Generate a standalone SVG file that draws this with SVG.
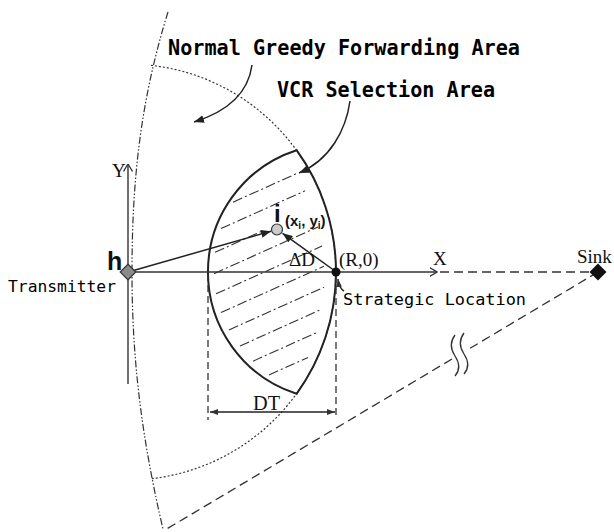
<svg xmlns="http://www.w3.org/2000/svg" width="614" height="532" viewBox="0 0 614 532">
<style>
.bg{fill:#fff}
.mono{font-family:"DejaVu Sans Mono","Liberation Mono",monospace;font-weight:bold;fill:#000}
.monor{font-family:"DejaVu Sans Mono","Liberation Mono",monospace;fill:#000}
.serif{font-family:"Liberation Serif","DejaVu Serif",serif;fill:#111}
.sansb{font-family:"Liberation Sans",Arial,sans-serif;font-weight:bold;fill:#111}
.axis{stroke:#333;stroke-width:1.4;fill:none}
.lens{stroke:#222;stroke-width:2;fill:none}
.dotted{stroke:#333;stroke-width:1.2;fill:none;stroke-dasharray:2,2}
.dashdot{stroke:#333;stroke-width:1.2;fill:none;stroke-dasharray:7,2,1.5,2,1.5,2}
.dashed{stroke:#333;stroke-width:1.3;fill:none;stroke-dasharray:9,5}
.vdash{stroke:#333;stroke-width:1.3;fill:none;stroke-dasharray:7,4}
.hatch{stroke:#333;stroke-width:1.1;fill:none;stroke-dasharray:10,3,2,3}
.arrow{stroke:#222;stroke-width:1.5;fill:none}
.wave{stroke:#333;stroke-width:1.3;fill:none}
</style>
<defs>
<marker id="arrF" viewBox="0 0 10 8" refX="10" refY="4" markerWidth="10" markerHeight="8" markerUnits="userSpaceOnUse" orient="auto-start-reverse">
<path d="M0,0 L10,4 L0,8 Z" fill="#222"/>
</marker>
<marker id="arrS" viewBox="0 0 8 6" refX="8" refY="3" markerWidth="8" markerHeight="6" markerUnits="userSpaceOnUse" orient="auto-start-reverse">
<path d="M0,0 L8,3 L0,6 Z" fill="#333"/>
</marker>
<marker id="arrO" viewBox="0 0 8 10" refX="7.5" refY="5" markerWidth="8" markerHeight="10" markerUnits="userSpaceOnUse" orient="auto">
<path d="M0,0.5 L7.5,5 L0,9.5" fill="none" stroke="#333" stroke-width="1.3"/>
</marker>
</defs>
<rect class="bg" x="0" y="0" width="614" height="532"/>

<g id="areas">
<path id="greedy-boundary" class="dashdot" d="M168,12 C140,102 132,182 132,272 C132,362 142,439 163,529"/>
<path id="greedy-arc" class="dotted" d="M151,65.3 A208,208 0 0 1 152,478.6"/>
<g id="hatching">
<line class="hatch" x1="233" y1="202.2" x2="296" y2="173.8"/>
<line class="hatch" x1="221" y1="228.6" x2="305" y2="190.8"/>
<line class="hatch" x1="215" y1="252.3" x2="262" y2="231.1"/>
<line class="hatch" x1="214" y1="273.7" x2="318" y2="226.9"/>
<line class="hatch" x1="216" y1="293.8" x2="322" y2="246.1"/>
<line class="hatch" x1="221" y1="312.6" x2="324" y2="266.2"/>
<line class="hatch" x1="229" y1="329.9" x2="324" y2="287.2"/>
<line class="hatch" x1="240" y1="346" x2="322" y2="309.1"/>
<line class="hatch" x1="253" y1="361.2" x2="317" y2="332.4"/>
<line class="hatch" x1="269" y1="374.9" x2="308" y2="357.4"/>
</g>
</g>

<g id="vcr-area">
<path class="lens" d="M296.6,150.2 A208,208 0 0 1 296.6,393.8 A128,128 0 0 1 296.6,150.2 Z"/>
</g>

<g id="connectors">
<line id="y-axis" class="axis" x1="128" y1="384" x2="128" y2="164" marker-end="url(#arrO)"/>
<line id="x-axis" class="axis" x1="128" y1="272" x2="437" y2="272" marker-end="url(#arrO)"/>
<line id="x-axis-ext" class="dashed" x1="440" y1="272" x2="590" y2="272"/>
<line id="sink-edge-a" class="dashed" x1="598" y1="272" x2="470" y2="348.3"/>
<line id="sink-edge-b" class="dashed" x1="452" y1="359" x2="165" y2="530"/>
<path id="break-1" class="wave" d="M455,335 C449,343 451,350 455,356 C459,362 461,369 455,376"/>
<path id="break-2" class="wave" d="M464,333 C458,341 460,348 464,354 C468,360 470,367 464,374"/>
<line id="dt-left" class="vdash" x1="208" y1="274" x2="208" y2="420"/>
<line id="dt-right" class="vdash" x1="336" y1="276" x2="336" y2="418"/>
<line id="dt-arrow" class="arrow" x1="210" y1="412" x2="335" y2="412" stroke-width="1.3" marker-start="url(#arrS)" marker-end="url(#arrS)"/>
<line id="h-to-i" class="arrow" x1="130" y1="271.5" x2="271" y2="231.2" marker-end="url(#arrF)"/>
<line id="s-to-i" class="arrow" x1="335" y1="271" x2="282.5" y2="233.3" marker-end="url(#arrF)"/>
<path id="greedy-label-arrow" class="arrow" d="M252,65 C248,95 226,112 194,122" marker-end="url(#arrF)"/>
<path id="vcr-label-arrow" class="arrow" d="M350,101 C346,130 330,160 299,173" marker-end="url(#arrF)"/>
<path id="strategic-label-arrow" class="arrow" stroke-width="1.2" d="M344,291 Q339,288 338,279" marker-end="url(#arrS)"/>
</g>

<g id="transmitter">
<rect x="122.5" y="266.5" width="11" height="11" transform="rotate(45 128 272)" fill="#8a8a8a" stroke="#333" stroke-width="1.2"/>
<text class="sansb" x="107" y="270" font-size="25">h</text>
<text class="monor" x="8" y="292" font-size="16.5" textLength="108" lengthAdjust="spacingAndGlyphs">Transmitter</text>
</g>

<g id="sink">
<rect x="592" y="266" width="12" height="12" transform="rotate(45 598 272)" fill="#111"/>
<text class="serif" x="577" y="263" font-size="19">Sink</text>
</g>

<g id="node-i">
<circle cx="277" cy="229.5" r="5.5" fill="#ccc" stroke="#333" stroke-width="1.2"/>
<text class="sansb" x="274" y="222" font-size="24">i</text>
<text class="sansb" x="285" y="226" font-size="15">(x<tspan font-size="10" dy="3">i</tspan><tspan dy="-3">, y</tspan><tspan font-size="10" dy="3">i</tspan><tspan dy="-3">)</tspan></text>
</g>

<g id="strategic-location">
<circle cx="336" cy="272" r="4.5" fill="#111"/>
<text class="serif" x="339" y="266" font-size="19">(R,0)</text>
<text class="monor" x="343" y="305" font-size="16.5" textLength="183" lengthAdjust="spacingAndGlyphs">Strategic Location</text>
</g>

<g id="labels">
<text class="mono" x="168" y="55" font-size="22" textLength="352" lengthAdjust="spacingAndGlyphs">Normal Greedy Forwarding Area</text>
<text class="mono" x="277" y="97" font-size="21" textLength="218" lengthAdjust="spacingAndGlyphs">VCR Selection Area</text>
<text class="serif" x="112" y="177" font-size="19">Y</text>
<text class="serif" x="433" y="265" font-size="19">X</text>
<text class="serif" x="289" y="266" font-size="19">ΔD</text>
<text class="serif" x="253" y="410" font-size="22" textLength="27" lengthAdjust="spacingAndGlyphs">DT</text>
</g>
</svg>
